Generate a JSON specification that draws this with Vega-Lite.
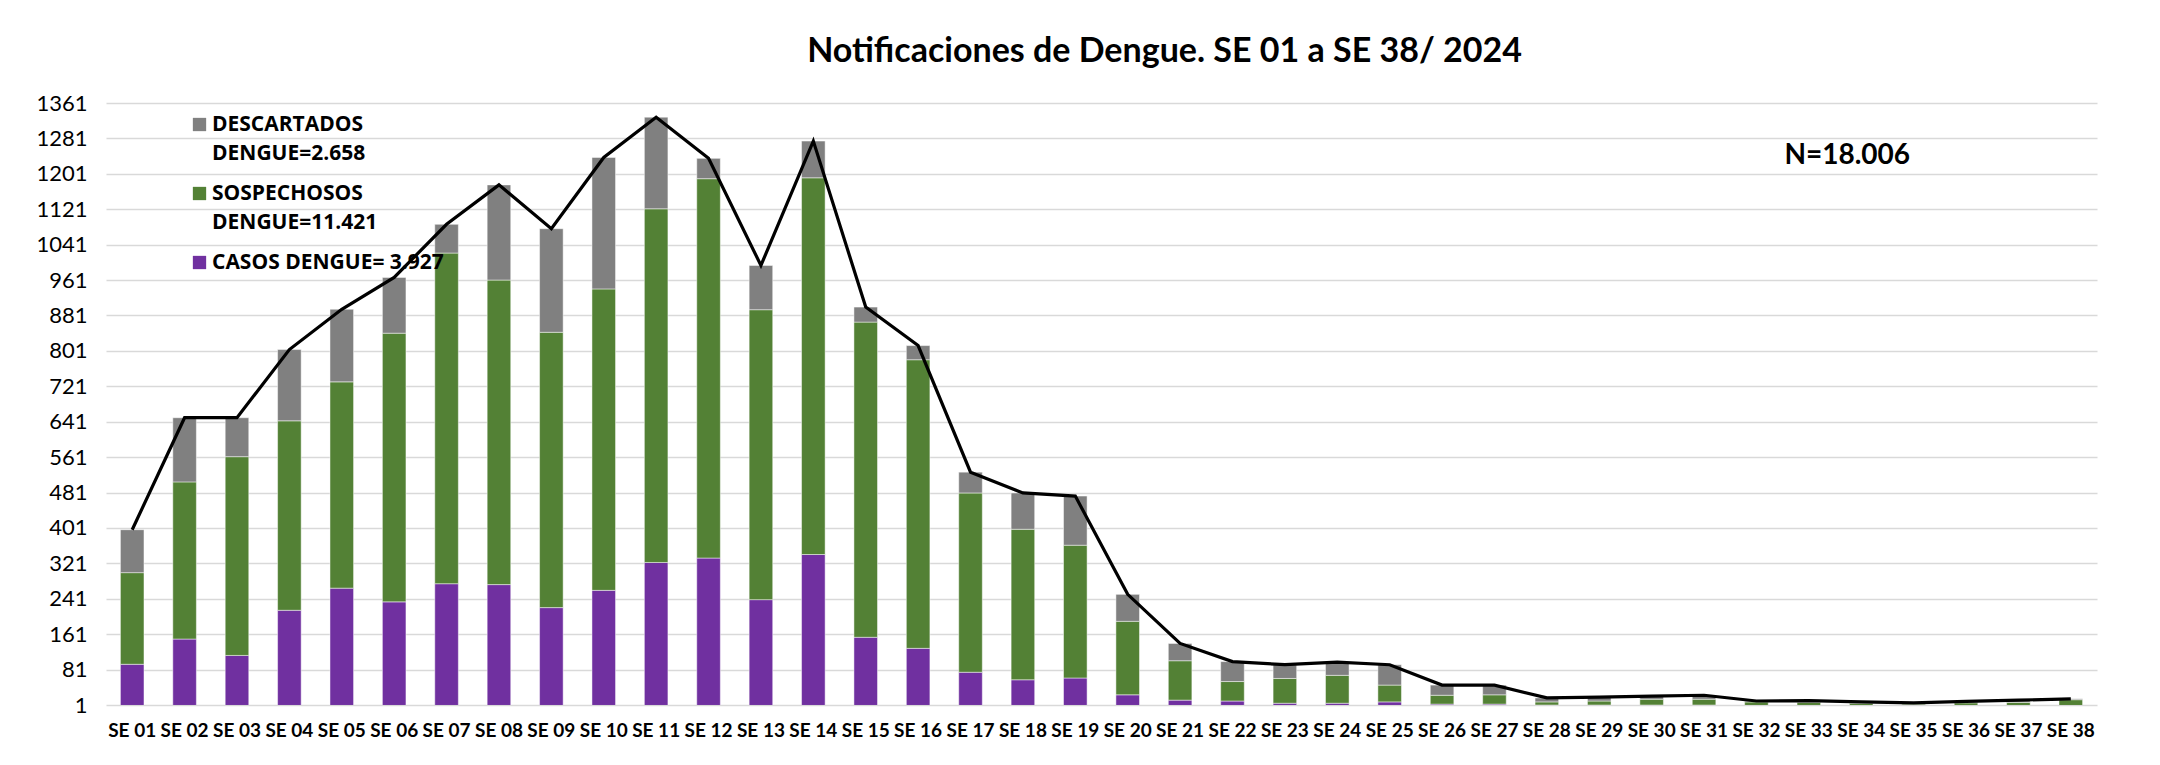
{
  "$schema": "https://vega.github.io/schema/vega-lite/v6.json",
  "width": 1991,
  "height": 602,
  "autosize": {"type": "none"},
  "padding": {"left": 106, "top": 103, "right": 63, "bottom": 60},
  "background": "white",
  "title": {
    "text": "Notificaciones de Dengue. SE 01 a SE 38/ 2024",
    "font": "Lato",
    "fontSize": 34,
    "fontWeight": "bold",
    "color": "#000000",
    "anchor": "middle",
    "dx": 63,
    "offset": -4,
    "baseline": "alphabetic"
  },
  "config": {
    "view": {"stroke": null},
    "axis": {"labelColor": "#000000"},
    "style": {"guide-label": {"lineHeight": 29}}
  },
  "data": {
    "values": [
      {"se": "SE 01", "casos": 93, "sospechosos": 207, "descartados": 97, "total": 397},
      {"se": "SE 02", "casos": 150, "sospechosos": 355, "descartados": 145, "total": 650},
      {"se": "SE 03", "casos": 113, "sospechosos": 449, "descartados": 88, "total": 650},
      {"se": "SE 04", "casos": 215, "sospechosos": 428, "descartados": 161, "total": 804},
      {"se": "SE 05", "casos": 265, "sospechosos": 466, "descartados": 164, "total": 895},
      {"se": "SE 06", "casos": 234, "sospechosos": 607, "descartados": 126, "total": 967},
      {"se": "SE 07", "casos": 275, "sospechosos": 747, "descartados": 65, "total": 1087},
      {"se": "SE 08", "casos": 273, "sospechosos": 688, "descartados": 215, "total": 1176},
      {"se": "SE 09", "casos": 221, "sospechosos": 622, "descartados": 234, "total": 1077},
      {"se": "SE 10", "casos": 260, "sospechosos": 681, "descartados": 297, "total": 1238},
      {"se": "SE 11", "casos": 323, "sospechosos": 799, "descartados": 207, "total": 1329},
      {"se": "SE 12", "casos": 333, "sospechosos": 857, "descartados": 46, "total": 1236},
      {"se": "SE 13", "casos": 239, "sospechosos": 655, "descartados": 100, "total": 994},
      {"se": "SE 14", "casos": 341, "sospechosos": 851, "descartados": 83, "total": 1275},
      {"se": "SE 15", "casos": 154, "sospechosos": 712, "descartados": 34, "total": 900},
      {"se": "SE 16", "casos": 129, "sospechosos": 652, "descartados": 32, "total": 813},
      {"se": "SE 17", "casos": 75, "sospechosos": 405, "descartados": 47, "total": 527},
      {"se": "SE 18", "casos": 58, "sospechosos": 340, "descartados": 82, "total": 480},
      {"se": "SE 19", "casos": 62, "sospechosos": 300, "descartados": 111, "total": 473},
      {"se": "SE 20", "casos": 24, "sospechosos": 166, "descartados": 61, "total": 251},
      {"se": "SE 21", "casos": 12, "sospechosos": 89, "descartados": 39, "total": 140},
      {"se": "SE 22", "casos": 10, "sospechosos": 44, "descartados": 45, "total": 99},
      {"se": "SE 23", "casos": 5, "sospechosos": 56, "descartados": 31, "total": 92},
      {"se": "SE 24", "casos": 5, "sospechosos": 63, "descartados": 30, "total": 98},
      {"se": "SE 25", "casos": 8, "sospechosos": 38, "descartados": 46, "total": 92},
      {"se": "SE 26", "casos": 3, "sospechosos": 20, "descartados": 23, "total": 46},
      {"se": "SE 27", "casos": 3, "sospechosos": 21, "descartados": 22, "total": 46},
      {"se": "SE 28", "casos": 1, "sospechosos": 7, "descartados": 9, "total": 17},
      {"se": "SE 29", "casos": 1, "sospechosos": 9, "descartados": 9, "total": 19},
      {"se": "SE 30", "casos": 1, "sospechosos": 13, "descartados": 7, "total": 21},
      {"se": "SE 31", "casos": 1, "sospechosos": 13, "descartados": 9, "total": 23},
      {"se": "SE 32", "casos": 0, "sospechosos": 8, "descartados": 2, "total": 10},
      {"se": "SE 33", "casos": 0, "sospechosos": 7, "descartados": 4, "total": 11},
      {"se": "SE 34", "casos": 0, "sospechosos": 5, "descartados": 3, "total": 8},
      {"se": "SE 35", "casos": 0, "sospechosos": 3, "descartados": 3, "total": 6},
      {"se": "SE 36", "casos": 0, "sospechosos": 6, "descartados": 3, "total": 9},
      {"se": "SE 37", "casos": 0, "sospechosos": 7, "descartados": 5, "total": 12},
      {"se": "SE 38", "casos": 0, "sospechosos": 13, "descartados": 2, "total": 15}
    ]
  },
  "encoding": {
    "x": {
      "field": "se",
      "type": "nominal",
      "sort": null,
      "scale": {"paddingInner": 0.55, "paddingOuter": 0.275},
      "axis": {
        "title": null,
        "labelAngle": 0,
        "labelFont": "Lato",
        "labelFontSize": 19,
        "labelFontWeight": "bold",
        "labelPadding": 16,
        "labelOverlap": false,
        "ticks": false,
        "domain": false,
        "grid": false
      }
    }
  },
  "resolve": {"axis": {"y": "shared"}},
  "layer": [
    {
      "transform": [
        {"fold": ["casos", "sospechosos", "descartados"], "as": ["serie", "n"]},
        {"calculate": "indexof(['casos','sospechosos','descartados'], datum.serie)", "as": "orden"}
      ],
      "mark": {"type": "bar", "clip": true, "stroke": "#ffffff", "strokeWidth": 0.8, "strokeOpacity": 0.6},
      "encoding": {
        "y": {
          "field": "n",
          "type": "quantitative",
          "stack": "zero",
          "scale": {"domain": [1, 1361], "nice": false, "zero": false},
          "axis": {
            "title": null,
            "values": [1, 81, 161, 241, 321, 401, 481, 561, 641, 721, 801, 881, 961, 1041, 1121, 1201, 1281, 1361],
            "tickCount": 40,
            "format": "d",
            "labelOverlap": false,
            "grid": true,
            "gridColor": "#d9d9d9",
            "gridWidth": 1.5,
            "domain": false,
            "ticks": false,
            "labelFont": "Lato",
            "labelFontSize": 22,
            "labelPadding": 19
          }
        },
        "color": {
          "field": "serie",
          "type": "nominal",
          "scale": {
            "domain": ["descartados", "sospechosos", "casos"],
            "range": ["#808080", "#538135", "#7030A0"]
          },
          "legend": {
            "title": null,
            "orient": "none",
            "legendX": 83,
            "legendY": 11,
            "direction": "vertical",
            "symbolType": "square",
            "symbolSize": 177,
            "symbolStrokeWidth": 0,
            "labelFont": "Open Sans",
            "labelFontSize": 21,
            "labelFontWeight": "bold",
            "labelColor": "#000000",
            "labelOffset": 2,
            "labelLimit": 600,
            "rowPadding": 18,
            "labelExpr": "datum.label == 'descartados' ? ['DESCARTADOS', 'DENGUE=2.658'] : datum.label == 'sospechosos' ? ['SOSPECHOSOS', 'DENGUE=11.421'] : 'CASOS DENGUE= 3.927'"
          }
        },
        "order": {"field": "orden", "type": "quantitative"}
      }
    },
    {
      "mark": {"type": "line", "color": "#000000", "strokeWidth": 3.2},
      "encoding": {
        "y": {
          "field": "total",
          "type": "quantitative",
          "axis": {
            "title": null,
            "values": [1, 81, 161, 241, 321, 401, 481, 561, 641, 721, 801, 881, 961, 1041, 1121, 1201, 1281, 1361],
            "tickCount": 40,
            "format": "d",
            "labelOverlap": false,
            "grid": true,
            "gridColor": "#d9d9d9",
            "gridWidth": 1.5,
            "domain": false,
            "ticks": false,
            "labelFont": "Lato",
            "labelFontSize": 22,
            "labelPadding": 19
          }
        }
      }
    },
    {
      "data": {"values": [{}]},
      "mark": {"type": "text", "font": "Lato", "fontSize": 28, "fontWeight": "bold", "color": "#000000", "dx": -14, "baseline": "middle"},
      "encoding": {
        "x": {"datum": "SE 34"},
        "y": {"datum": 1242},
        "text": {"value": "N=18.006"}
      }
    }
  ]
}
